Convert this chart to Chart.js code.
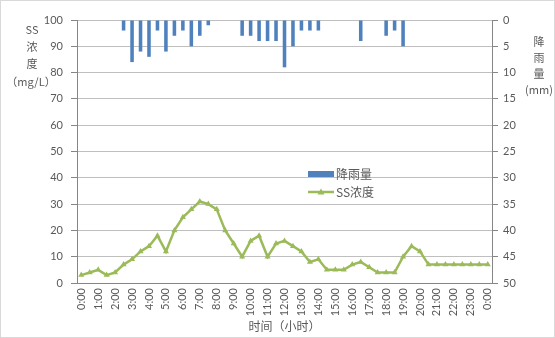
<!DOCTYPE html>
<html>
<head>
<meta charset="utf-8">
<script src="https://cdn.jsdelivr.net/npm/chart.js@4.4.1/dist/chart.umd.min.js"></script>
<style>
  html, body { margin: 0; padding: 0; background: #fff; }
  #wrap { width: 555px; height: 338px; position: relative; }
</style>
</head>
<body>
<div id="wrap"><canvas id="c" width="555" height="338"></canvas></div>
<script>
// Half-hourly sampling over one day
const timeLabels = [
  '0:00','0:30','1:00','1:30','2:00','2:30','3:00','3:30','4:00','4:30',
  '5:00','5:30','6:00','6:30','7:00','7:30','8:00','8:30','9:00','9:30',
  '10:00','10:30','11:00','11:30','12:00','12:30','13:00','13:30','14:00','14:30',
  '15:00','15:30','16:00','16:30','17:00','17:30','18:00','18:30','19:00','19:30',
  '20:00','20:30','21:00','21:30','22:00','22:30','23:00','23:30','0:00'
];

// Rainfall (mm) per half hour
const rainfall = [
  null, null, null, null, null, 2, 8, 6, 7, 2,
  6, 3, 2, 5, 3, 1, null, null, null, 3,
  3, 4, 4, 4, 9, 5, 2, 2, 2, null,
  null, null, null, 4, null, null, 3, 2, 5, null,
  null, null, null, null, null, null, null, null, null
];

// Suspended solids concentration (mg/L)
const ssConc = [
  3, 4, 5, 3, 4, 7, 9, 12, 14, 18,
  12, 20, 25, 28, 31, 30, 28, 20, 15, 10,
  16, 18, 10, 15, 16, 14, 12, 8, 9, 5,
  5, 5, 7, 8, 6, 4, 4, 4, 10, 14,
  12, 7, 7, 7, 7, 7, 7, 7, 7
];

const leftTicks = [0, 10, 20, 30, 40, 50, 60, 70, 80, 90, 100];
const rightTicks = [0, 5, 10, 15, 20, 25, 30, 35, 40, 45, 50];

const BLUE = '#4f81bd';
const GREEN = '#9bbb59';
const TEXT = '#595959';
const NUM_FONT = { family: 'Lato, "Noto Sans CJK SC", sans-serif', size: 11 };
const CJK = '"Noto Sans CJK SC", sans-serif';

// Frame, axis titles and in-plot legend
const decorations = {
  id: 'decorations',
  beforeDraw(chart) {
    const ctx = chart.ctx;
    ctx.save();
    ctx.fillStyle = '#fff';
    ctx.fillRect(0, 0, chart.width, chart.height);
    ctx.strokeStyle = '#d9d9d9';
    ctx.lineWidth = 1;
    ctx.strokeRect(0.5, 0.5, chart.width - 1, chart.height - 1);
    ctx.restore();
  },
  afterDraw(chart) {
    const ctx = chart.ctx;
    const a = chart.chartArea;
    ctx.save();
    ctx.fillStyle = TEXT;
    ctx.textAlign = 'center';
    ctx.textBaseline = 'middle';

    // left axis title, stacked
    ctx.font = '11px ' + CJK;
    ctx.fillText('SS', 32, 30);
    ctx.fillText('浓', 32, 47);
    ctx.fillText('度', 32, 64);
    ctx.fillText('（mg/L）', 31, 82);

    // right axis title, stacked
    ctx.fillText('降', 539, 42);
    ctx.fillText('雨', 539, 58);
    ctx.fillText('量', 539, 74);
    ctx.fillText('(mm)', 539, 90);

    // x axis title
    ctx.font = '12px ' + CJK;
    ctx.fillText('时间（小时）', (a.left + a.right) / 2, 326);

    // legend
    const lx = a.left + 231;
    const ly = a.top + 154;
    ctx.fillStyle = BLUE;
    ctx.fillRect(lx, ly - 3, 26, 6);
    ctx.strokeStyle = GREEN;
    ctx.lineWidth = 2.5;
    ctx.beginPath();
    ctx.moveTo(lx, ly + 18);
    ctx.lineTo(lx + 26, ly + 18);
    ctx.stroke();
    ctx.fillStyle = GREEN;
    ctx.beginPath();
    ctx.moveTo(lx + 13, ly + 14.5);
    ctx.lineTo(lx + 16.5, ly + 20.5);
    ctx.lineTo(lx + 9.5, ly + 20.5);
    ctx.closePath();
    ctx.fill();
    ctx.fillStyle = TEXT;
    ctx.textAlign = 'left';
    ctx.font = '12px ' + CJK;
    ctx.fillText('降雨量', lx + 28, ly);
    ctx.fillText('SS浓度', lx + 28, ly + 18);
    ctx.restore();
  }
};

new Chart(document.getElementById('c'), {
  data: {
    labels: timeLabels,
    datasets: [
      {
        type: 'line',
        label: 'SS浓度',
        data: ssConc,
        yAxisID: 'y',
        borderColor: GREEN,
        backgroundColor: GREEN,
        borderWidth: 2.5,
        pointStyle: 'triangle',
        pointRadius: 3.5,
        pointBorderWidth: 0,
        pointBackgroundColor: GREEN,
        tension: 0,
        order: 1
      },
      {
        type: 'bar',
        label: '降雨量',
        data: rainfall,
        yAxisID: 'y2',
        backgroundColor: BLUE,
        borderWidth: 0,
        barPercentage: 0.42,
        categoryPercentage: 1,
        order: 2
      }
    ]
  },
  options: {
    responsive: false,
    animation: false,
    devicePixelRatio: 1,
    layout: { padding: { top: 20, left: 0, right: 0, bottom: 0 } },
    plugins: {
      legend: { display: false },
      tooltip: { enabled: false }
    },
    scales: {
      x: {
        type: 'category',
        offset: true,
        grid: { display: true, drawOnChartArea: false, drawTicks: false, color: '#868686' },
        border: { display: true, color: '#868686' },
        ticks: {
          autoSkip: false,
          maxRotation: 90,
          minRotation: 90,
          padding: 5,
          color: TEXT,
          font: NUM_FONT,
          callback: (v, i) => (i % 2 === 0 ? timeLabels[i] : '')
        },
        afterFit: s => { s.height = 55; }
      },
      y: {
        position: 'left',
        min: 0,
        max: 100,
        afterBuildTicks: s => { s.ticks = leftTicks.map(v => ({ value: v })); },
        grid: { color: '#bfbfbf', tickLength: 6, tickColor: '#868686' },
        border: { display: true, color: '#868686' },
        ticks: { padding: 8, color: TEXT, font: NUM_FONT },
        afterFit: s => { s.width = 77; }
      },
      y2: {
        position: 'right',
        reverse: true,
        min: 0,
        max: 50,
        afterBuildTicks: s => { s.ticks = rightTicks.map(v => ({ value: v })); },
        grid: { drawOnChartArea: false, tickLength: 6, color: '#868686' },
        border: { display: true, color: '#868686' },
        ticks: { padding: 5, color: TEXT, font: NUM_FONT },
        afterFit: s => { s.width = 63; }
      }
    }
  },
  plugins: [decorations]
});
</script>
</body>
</html>
